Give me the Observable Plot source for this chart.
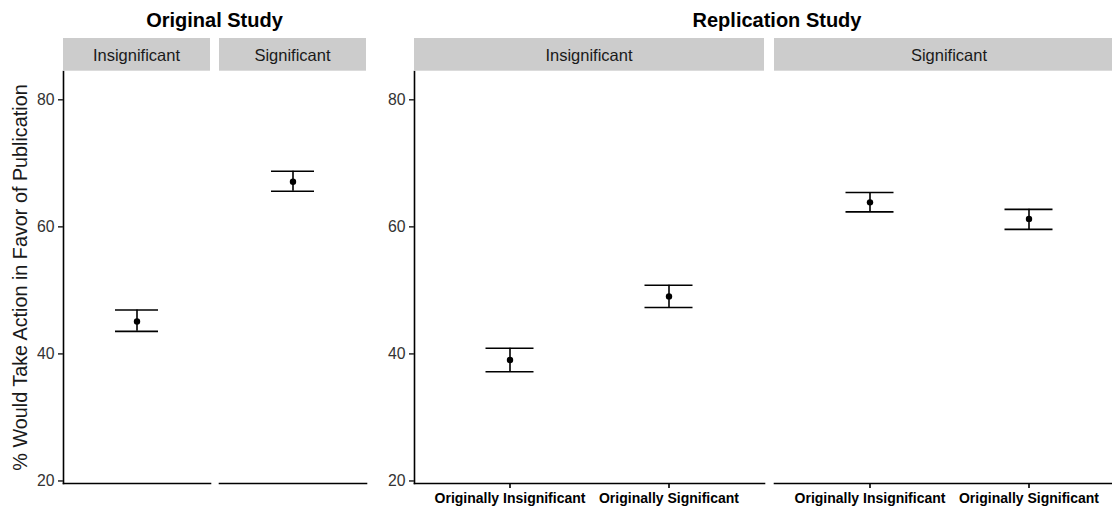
<!DOCTYPE html>
<html><head><meta charset="utf-8">
<script src="https://cdn.jsdelivr.net/npm/d3@7"></script>
<script src="https://cdn.jsdelivr.net/npm/@observablehq/plot@0.6"></script>
<style>
html,body{margin:0;padding:0;overflow:hidden;background:#fff;}
#root{position:relative;width:1112px;height:508px;overflow:hidden;font-family:"Liberation Sans",Arial,sans-serif;}
#root > svg, #root > figure{position:absolute;top:0;margin:0;}
</style></head><body><div id="root"></div>
<script>
// ---- data ----
const origFacets = ["Insignificant", "Significant"];
const origMean  = [45.1, 67.1];
const origLower = [43.55, 65.6];
const origUpper = [46.9, 68.75];

const repFacets = ["Insignificant", "Insignificant", "Significant", "Significant"];
const repGroups = ["Originally Insignificant", "Originally Significant", "Originally Insignificant", "Originally Significant"];
const repMean  = [39.05, 49.05, 63.85, 61.25];
const repLower = [37.2, 47.3, 62.35, 59.6];
const repUpper = [40.9, 50.8, 65.4, 62.75];

const yTicks = [20, 40, 60, 80];
const panelTitles = ["Original Study", "Replication Study"];
const yTitle = "% Would Take Action in Favor of Publication";

// ---- tables ----
const orig = origFacets.map((f, i) => ({facet: f, group: "", mean: origMean[i], lo: origLower[i], hi: origUpper[i]}));
const rep = repFacets.map((f, i) => ({facet: f, group: repGroups[i], mean: repMean[i], lo: repLower[i], hi: repUpper[i]}));

const FONT = "Liberation Sans, Arial, sans-serif";
const yDomain = [19.6, 84.45];
const LW = 1.6;

function panelMarks(data, capInset, xAxis) {
  return [
    Plot.frame({anchor: "bottom", stroke: "#000", strokeWidth: LW}),
    Plot.frame({anchor: "left", facetAnchor: "left", stroke: "#000", strokeWidth: LW}),
    Plot.axisY({ticks: yTicks, tickSize: 5, tickPadding: 4, label: null, fontSize: 15.8, color: "#333", strokeWidth: LW}),
    ...(xAxis ? [Plot.axisX({tickSize: 5, tickPadding: 5, label: null, fontSize: 14, fontWeight: "bold", color: "#000", strokeWidth: LW})] : []),
    Plot.ruleX(data, {fx: "facet", x: "group", y1: "lo", y2: "hi", stroke: "#000", strokeWidth: LW}),
    Plot.tickY(data, {fx: "facet", x: "group", y: "lo", insetLeft: capInset, insetRight: capInset, stroke: "#000", strokeWidth: LW}),
    Plot.tickY(data, {fx: "facet", x: "group", y: "hi", insetLeft: capInset, insetRight: capInset, stroke: "#000", strokeWidth: LW}),
    Plot.dot(data, {fx: "facet", x: "group", y: "mean", r: 3.2, fill: "#000", stroke: null})
  ];
}

const chart1 = Plot.plot({
  width: 370, height: 508,
  marginLeft: 63, marginRight: 4, marginTop: 71, marginBottom: 25,
  style: {fontFamily: FONT, background: "transparent", overflow: "visible"},
  fx: {domain: origFacets, paddingInner: 0.0577, paddingOuter: 0, axis: null, label: null},
  x: {domain: [""], paddingInner: 0, paddingOuter: 0, axis: null, label: null},
  y: {domain: yDomain, label: null},
  marks: panelMarks(orig, 52, false)
});

const chart2 = Plot.plot({
  width: 754, height: 508,
  marginLeft: 44, marginRight: 0, marginTop: 71, marginBottom: 25,
  style: {fontFamily: FONT, background: "transparent", overflow: "visible"},
  fx: {domain: origFacets, paddingInner: 0.0278, paddingOuter: 0, axis: null, label: null},
  x: {domain: ["Originally Insignificant", "Originally Significant"], paddingInner: 0, paddingOuter: 0.1, label: null},
  y: {domain: yDomain, label: null},
  marks: panelMarks(rep, 55.5, true)
});

const root = document.getElementById("root");
chart1.style.left = "0px";
chart2.style.left = "370px";
root.appendChild(chart1);
root.appendChild(chart2);

// ---- overlay: titles, strips, y title ----
const ns = "http://www.w3.org/2000/svg";
const ov = document.createElementNS(ns, "svg");
ov.setAttribute("width", 1112); ov.setAttribute("height", 508);
ov.style.position = "absolute"; ov.style.left = "0px"; ov.style.top = "0px";
ov.style.fontFamily = FONT;
root.appendChild(ov);

function el(tag, attrs, text) {
  const e = document.createElementNS(ns, tag);
  for (const k in attrs) e.setAttribute(k, attrs[k]);
  if (text != null) e.textContent = text;
  ov.appendChild(e);
  return e;
}

function strips(chart, offsetX) {
  const fx = chart.scale("fx");
  const bw = fx.bandwidth;
  const r = fx.range;
  for (const d of fx.domain) {
    const x0 = offsetX + fx.apply(d);
    el("rect", {x: x0, y: 38, width: bw, height: 32.7, fill: "#cccccc"});
    el("text", {x: x0 + bw / 2, y: 61.3, "text-anchor": "middle", "font-size": 16.5, fill: "#1a1a1a"}, d);
  }
  return [offsetX + r[0], offsetX + r[1]];
}

const r1 = strips(chart1, 0);
const r2 = strips(chart2, 370);
el("text", {x: (r1[0] + r1[1]) / 2, y: 27, "text-anchor": "middle", "font-size": 20, "font-weight": "bold", fill: "#000"}, panelTitles[0]);
el("text", {x: 777, y: 27, "text-anchor": "middle", "font-size": 20, "font-weight": "bold", fill: "#000"}, panelTitles[1]);
el("text", {transform: "translate(26.5,277.5) rotate(-90)", "text-anchor": "middle", "font-size": 19.8, fill: "#1a1a1a"}, yTitle);
</script>
</body></html>
